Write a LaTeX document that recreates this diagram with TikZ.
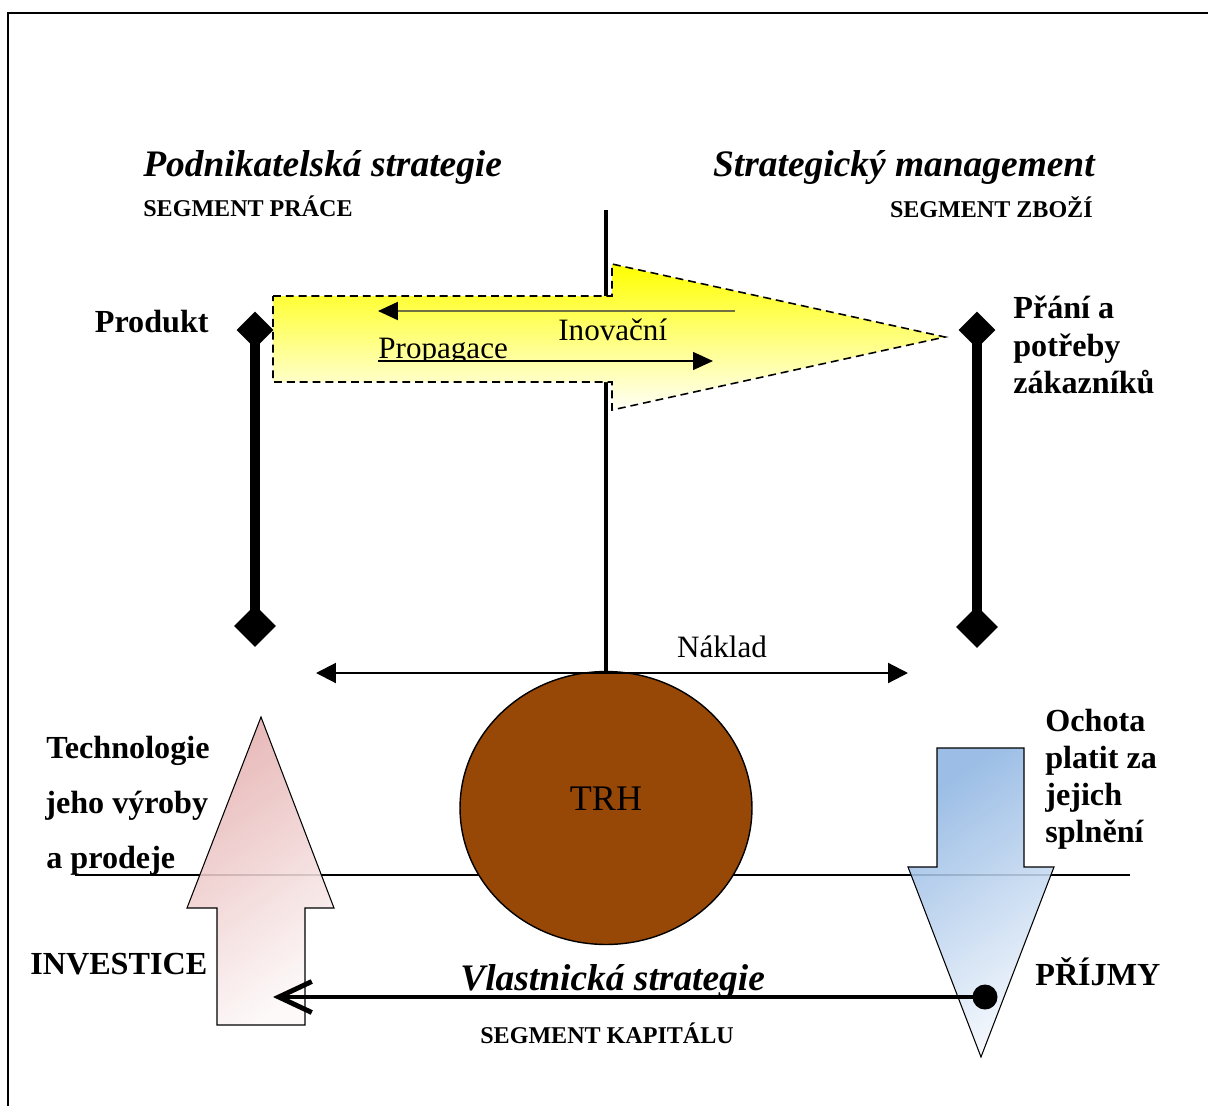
\documentclass[tikz,border=0pt]{standalone}
\usepackage{fontspec}
\setmainfont{Liberation Serif}
\usetikzlibrary{arrows.meta,shapes.geometric}

\definecolor{trhbrown}{RGB}{151,71,6}
\definecolor{pinkarrow}{RGB}{229,176,176}
\definecolor{pinkpale}{RGB}{253,248,248}
\definecolor{bluearrow}{RGB}{141,180,226}
\definecolor{bluepale}{RGB}{243,247,252}
\definecolor{olivegrey}{RGB}{112,112,66}

\begin{document}
\begin{tikzpicture}[x=0.02cm,y=-0.02cm,
  titletext/.style={font=\fontsize{21.3}{25}\selectfont\bfseries\itshape, inner sep=0pt},
  segtext/.style={font=\fontsize{13.7}{16}\selectfont\bfseries, inner sep=0pt},
  boldlabel/.style={font=\fontsize{18.3}{21}\selectfont\bfseries, inner sep=0pt},
  plaintext/.style={font=\fontsize{17.7}{21}\selectfont, inner sep=0pt},
  diam/.style={diamond, fill=black, inner sep=0pt, minimum width=#1, minimum height=#1},
  barline/.style={line width=5.6pt},
  frameline/.style={line width=1.3pt},
  thinline/.style={line width=0.75pt},
  flowarrow/.style={draw=black, line width=0.6pt, fill opacity=0.88},
]
\useasboundingbox (0,0) rectangle (1208,1106);

% page frame
\coordinate (fbl) at (8,1106);
\coordinate (ftl) at (8,13);
\coordinate (ftr) at (1208,13);
\draw[frameline] (fbl) -- (ftl) -- (ftr);

% horizontal dividing line
\coordinate (hl) at (75,875);
\coordinate (hr) at (1130,875);
\draw[thinline] (hl) -- (hr);

% market
\node[ellipse, draw=black, line width=0.8pt, fill=trhbrown,
      minimum width=5.84cm, minimum height=5.46cm, inner sep=0pt] (market) at (606,808) {};
\node[font=\fontsize{20.5}{24}\selectfont, anchor=base] (trhtext) at (606,810) {TRH};

% vertical axis
\coordinate (vtop) at (606,210);
\draw[line width=2.3pt] (vtop) -- (market.north);

% innovation arrow
\path[top color=yellow, bottom color=yellow!3]
  (273,296) -- (612,296) -- (612,264) -- (945,337) -- (612,410) -- (612,382) -- (273,382) -- cycle;
\draw[line width=0.9pt, dash pattern=on 4.5pt off 2.8pt]
  (273,296) -- (612,296) -- (612,264) -- (945,337) -- (612,410) -- (612,382) -- (273,382) -- cycle;

\coordinate (inovR) at (735,311);
\coordinate (inovL) at (378,311);
\draw[olivegrey, line width=1.2pt, -{Triangle[length=0.4cm,width=0.36cm,color=black]}] (inovR) -- (inovL);
\coordinate (propL) at (378,361);
\coordinate (propR) at (713,361);
\draw[line width=0.8pt, -{Triangle[length=0.4cm,width=0.36cm]}] (propL) -- (propR);

\node[plaintext, anchor=base west] (inov) at (558,340) {Inovační};
\begin{scope}
  \clip (370,300) rectangle (530,360);
  \node[plaintext, anchor=base west] (propag) at (378,358) {Propagace};
\end{scope}

% product and customer bars
\node[diam=0.74cm] (dlt) at (255,330) {};
\node[diam=0.84cm] (dlb) at (255,626) {};
\node[diam=0.74cm] (drt) at (977,330) {};
\node[diam=0.84cm] (drb) at (977,627) {};
\draw[barline] (dlt.center) -- (dlb.center);
\draw[barline] (drt.center) -- (drb.center);

% cost arrow
\coordinate (nakL) at (316,673);
\coordinate (nakR) at (908,673);
\draw[line width=1.2pt, {Triangle[length=0.4cm,width=0.4cm]}-{Triangle[length=0.4cm,width=0.4cm]}] (nakL) -- (nakR);
\node[plaintext, anchor=base] (naklad) at (722,657) {Náklad};

% investment arrow
\path[flowarrow, top color=pinkarrow, bottom color=pinkpale, shading angle=35]
  (261,717) -- (334,908) -- (305,908) -- (305,1025) -- (217,1025) -- (217,908) -- (187,908) -- cycle;

% revenue arrow
\path[flowarrow, top color=bluearrow, bottom color=bluepale, shading angle=35]
  (937,748) -- (1024,748) -- (1024,867) -- (1054,867) -- (981,1057) -- (908,867) -- (937,867) -- cycle;

% capital flow
\node[circle, fill=black, minimum size=0.5cm, inner sep=0pt] (dot) at (985,997) {};
\coordinate (captip) at (273,997);
\draw[line width=2.8pt, -{Straight Barb[length=0.66cm,width=0.62cm]}] (dot.center) -- (captip);

% headings
\node[titletext, anchor=base west] (pstrat) at (143,176) {Podnikatelská strategie};
\node[segtext, anchor=base west] (segprace) at (143,216) {SEGMENT PRÁCE};
\node[titletext, anchor=base east] (smgmt) at (1095,176) {Strategický management};
\node[segtext, anchor=base east] (segzbozi) at (1093,217) {SEGMENT ZBOŽÍ};
\node[titletext, anchor=base west] (vstrat) at (460,990) {Vlastnická strategie};
\node[segtext, anchor=base west] (segkap) at (480,1043) {SEGMENT KAPITÁLU};

% side labels
\node[boldlabel, anchor=base east] (produkt) at (209,332) {Produkt};
\node[boldlabel, anchor=base west] (prani1) at (1013,318) {Přání a};
\node[boldlabel, anchor=base west] (prani2) at (1013,356) {potřeby};
\node[boldlabel, anchor=base west] (prani3) at (1013,393) {zákazníků};

\node[boldlabel, anchor=base west] (tech1) at (46,758) {Technologie};
\node[boldlabel, anchor=base west] (tech2) at (45,813) {jeho výroby};
\node[boldlabel, anchor=base west] (tech3) at (46,868) {a prodeje};
\node[boldlabel, anchor=base west] (invest) at (30,974) {INVESTICE};

\node[boldlabel, anchor=base west] (ochota1) at (1045,731) {Ochota};
\node[boldlabel, anchor=base west] (ochota2) at (1045,768) {platit za};
\node[boldlabel, anchor=base west] (ochota3) at (1045,805) {jejich};
\node[boldlabel, anchor=base west] (ochota4) at (1045,842) {splnění};
\node[boldlabel, anchor=base west] (prijmy) at (1035,985) {PŘÍJMY};
\end{tikzpicture}
\end{document}
